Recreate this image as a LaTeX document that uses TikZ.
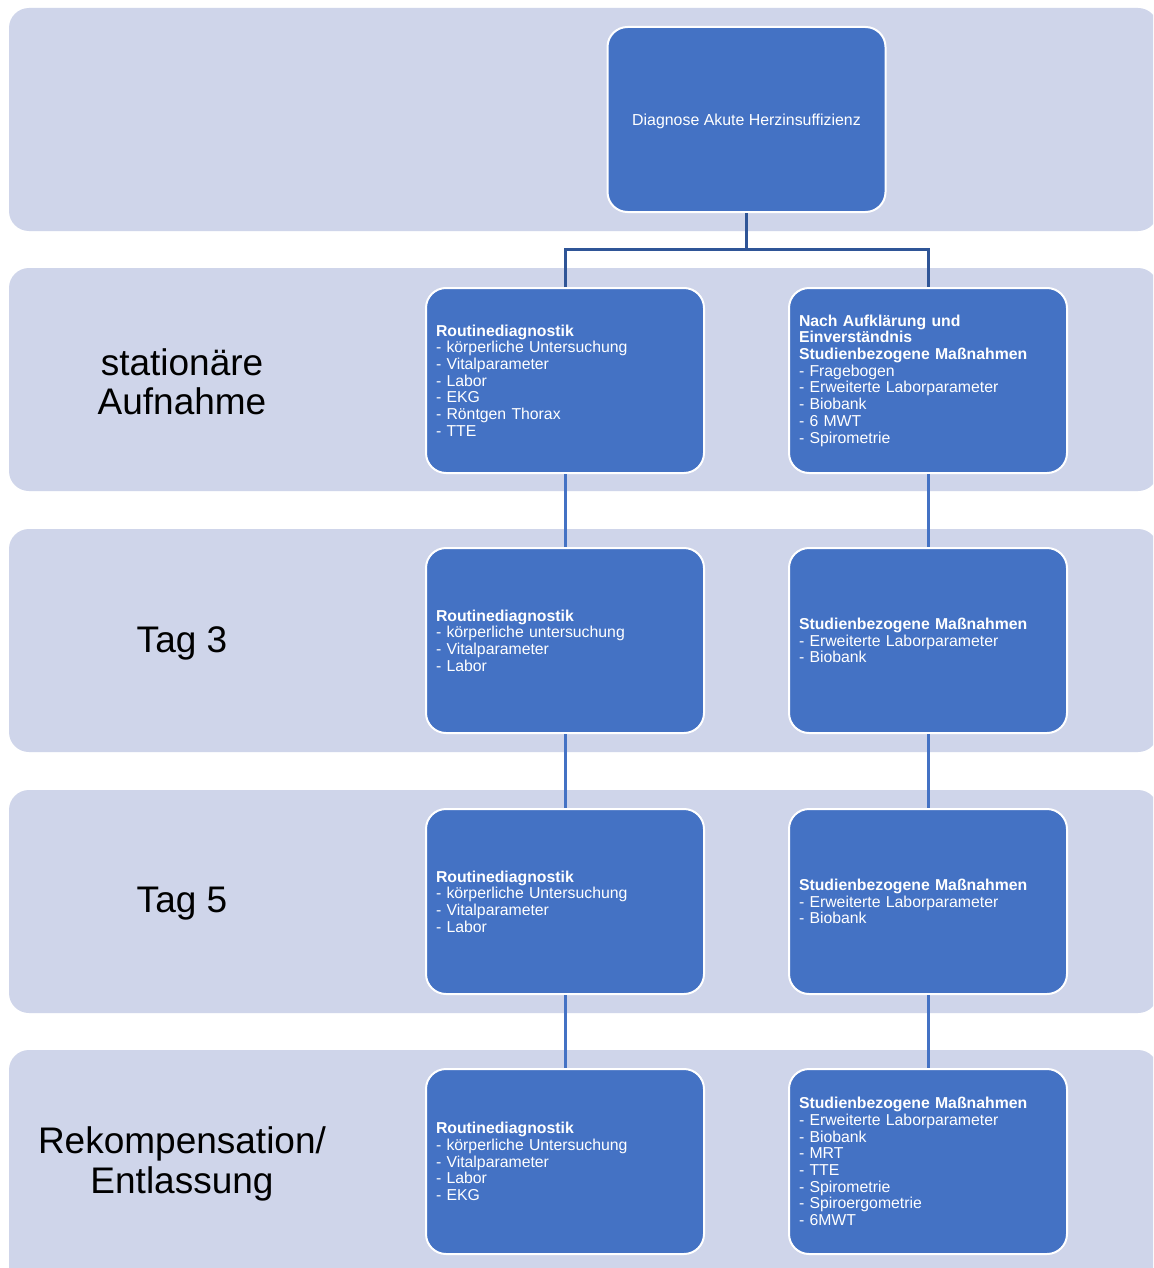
\documentclass[tikz,border=0pt]{standalone}
\usepackage{fontspec}
\setmainfont{Liberation Sans}
\definecolor{bandc}{HTML}{CFD5EA}
\definecolor{boxc}{HTML}{4472C4}
\definecolor{treec}{HTML}{2F5597}
\begin{document}
\begin{tikzpicture}[x=0.5pt,y=-0.5pt,
  band/.style={fill=bandc,draw=none,rounded corners=10pt},
  bx/.style={draw=white,line width=1pt,fill=boxc,rounded corners=10pt,
    minimum width=139pt,minimum height=92.5pt,text=white,inner sep=0pt},
  lbox/.style={bx,text width=129pt,align=left,
    font=\fontsize{7.9pt}{8.35pt}\selectfont},
  rowlabel/.style={align=center,font=\fontsize{18.5pt}{19.7pt}\selectfont,text=black},
  tree/.style={draw=treec,line width=1.5pt},
  link/.style={draw=boxc,line width=1.5pt}]
\clip (0,0) rectangle (1153,1268);
\fill[white] (0,0) rectangle (1153,1268);
% bands
\fill[band] (9,8) rectangle (1158,231);
\fill[band] (9,268) rectangle (1158,491);
\fill[band] (9,529) rectangle (1158,752);
\fill[band] (9,790) rectangle (1158,1013);
\fill[band] (9,1050) rectangle (1158,1290);
% row labels
\node[rowlabel] (l2) at (182,382) {stationäre\\Aufnahme};
\node[rowlabel] (l3) at (182,643) {Tag 3};
\node[rowlabel] (l4) at (182,904) {Tag 5};
\node[rowlabel] (l5) at (182,1164) {Rekompensation/\\Entlassung};
% boxes
\node[bx] (top) at (746.5,119.5) {};
\node[text=white,inner sep=0pt,font=\fontsize{7.95pt}{8.35pt}\selectfont] (toptext) at ([yshift=-1pt]top.center) {Diagnose Akute Herzinsuffizienz};
\node[lbox] (a2) at (565,380.5) {\textbf{Routinediagnostik}\\- körperliche Untersuchung\\- Vitalparameter\\- Labor\\- EKG\\- Röntgen Thorax\\- TTE};
\node[lbox] (b2) at (928,380.5) {\textbf{Nach Aufklärung und}\\\textbf{Einverständnis}\\\textbf{Studienbezogene Maßnahmen}\\- Fragebogen\\- Erweiterte Laborparameter\\- Biobank\\- 6 MWT\\- Spirometrie};
\node[lbox] (a3) at (565,640.5) {\textbf{Routinediagnostik}\\- körperliche untersuchung\\- Vitalparameter\\- Labor};
\node[lbox] (b3) at (928,640.5) {\textbf{Studienbezogene Maßnahmen}\\- Erweiterte Laborparameter\\- Biobank};
\node[lbox] (a4) at (565,901.5) {\textbf{Routinediagnostik}\\- körperliche Untersuchung\\- Vitalparameter\\- Labor};
\node[lbox] (b4) at (928,901.5) {\textbf{Studienbezogene Maßnahmen}\\- Erweiterte Laborparameter\\- Biobank};
\node[lbox] (a5) at (565,1161.5) {\textbf{Routinediagnostik}\\- körperliche Untersuchung\\- Vitalparameter\\- Labor\\- EKG};
\node[lbox] (b5) at (928,1161.5) {\textbf{Studienbezogene Maßnahmen}\\- Erweiterte Laborparameter\\- Biobank\\- MRT\\- TTE\\- Spirometrie\\- Spiroergometrie\\- 6MWT};
% connectors
\coordinate (j) at (746.5,249);
\draw[tree] (top.south) -- (j);
\draw[tree] (a2.north) |- (j) -| (b2.north);
\draw[link] (a2.south) -- (a3.north);
\draw[link] (a3.south) -- (a4.north);
\draw[link] (a4.south) -- (a5.north);
\draw[link] (b2.south) -- (b3.north);
\draw[link] (b3.south) -- (b4.north);
\draw[link] (b4.south) -- (b5.north);
\end{tikzpicture}
\end{document}
